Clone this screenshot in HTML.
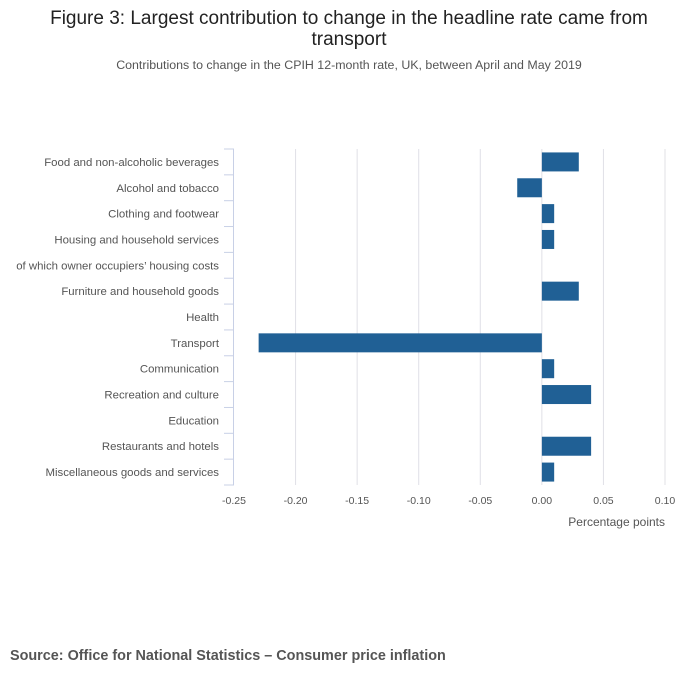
<!DOCTYPE html>
<html><head><meta charset="utf-8"><style>
body{margin:0;background:#fff;width:700px;height:682px;overflow:hidden;font-family:"Liberation Sans",sans-serif}
</style></head><body>
<svg width="700" height="682" id="c">
<text x="349" y="24" text-anchor="middle" font-size="19" fill="#222">Figure 3: Largest contribution to change in the headline rate came from</text>
<text x="349" y="45" text-anchor="middle" font-size="19" fill="#222">transport</text>
<text x="349" y="69" text-anchor="middle" font-size="12.4" fill="#555">Contributions to change in the CPIH 12-month rate, UK, between April and May 2019</text>
<g id="grid"></g><g id="bars"></g><g id="yax"></g><g id="xax"></g>
<text x="665" y="526" text-anchor="end" font-size="12" fill="#555">Percentage points</text>
<text x="10" y="660" font-size="14.4" font-weight="bold" fill="#555">Source: Office for National Statistics – Consumer price inflation</text>
</svg>
<script>
const categories=["Food and non-alcoholic beverages","Alcohol and tobacco","Clothing and footwear","Housing and household services","of which owner occupiers’ housing costs","Furniture and household goods","Health","Transport","Communication","Recreation and culture","Education","Restaurants and hotels","Miscellaneous goods and services"];
const values=[0.03,-0.02,0.01,0.01,0,0.03,0,-0.23,0.01,0.04,0,0.04,0.01];
const ticks=[-0.25,-0.2,-0.15,-0.1,-0.05,0,0.05,0.1];
const tickLabels=["-0.25","-0.20","-0.15","-0.10","-0.05","0.00","0.05","0.10"];
const NS="http://www.w3.org/2000/svg";
const x0=234,x1=665,y0=149,y1=485;
const xs=v=>x0+(v-ticks[0])/(ticks[ticks.length-1]-ticks[0])*(x1-x0);
const step=(y1-y0)/categories.length;
function mk(t,a,p){const e=document.createElementNS(NS,t);for(const k in a)e.setAttribute(k,a[k]);p.appendChild(e);return e;}
const G=document.getElementById('grid'),B=document.getElementById('bars'),Y=document.getElementById('yax'),X=document.getElementById('xax');
ticks.forEach((t,i)=>{
 if(i>0){const l=mk('line',{x1:xs(t),x2:xs(t),y1:y0,y2:y1,stroke:'#e0e0e6','stroke-width':1},G);
 
 }
 const tx=mk('text',{x:xs(t),y:y1+19,'text-anchor':'middle','font-size':10.5,fill:'#555'},X);tx.textContent=tickLabels[i];
 
 
});
const ax=mk('line',{x1:233.5,x2:233.5,y1:y0,y2:y1,stroke:'#c8d0e6','stroke-width':1},Y);


for(let i=0;i<=categories.length;i++){const y=y0+i*step;const tk=mk('line',{x1:224,x2:234,y1:y,y2:y,stroke:'#c8d0e6'},Y);
 
 }
categories.forEach((c,i)=>{
 const yc=y0+(i+0.5)*step;
 const t=mk('text',{x:219,y:yc+4,'text-anchor':'end','font-size':11.4,fill:'#555'},Y);t.textContent=c;
 
 
 const v=values[i];if(v===0)return;
 const a=xs(Math.min(0,v)),b=xs(Math.max(0,v));
 const r=mk('rect',{x:a,y:yc-9.5,width:b-a,height:19,fill:'#206095'},B);
 
 
});
</script>
</body></html>
